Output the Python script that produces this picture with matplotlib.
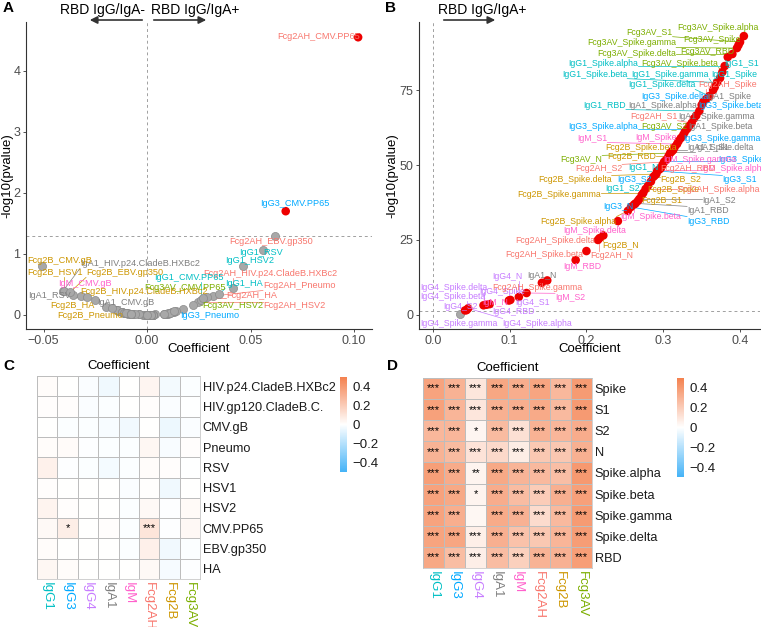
import numpy as np
import matplotlib.pyplot as plt
from matplotlib.colors import LinearSegmentedColormap

plt.rcParams['font.family'] = ['Liberation Sans', 'DejaVu Sans']

W, H = 761, 627

isotypes = ["IgG1", "IgG3", "IgG4", "IgA1", "IgM", "Fcg2AH", "Fcg2B", "Fcg3AV"]
iso_colors = ["#00BFC4", "#00A9FF", "#C77CFF", "#7F7F7F", "#FF61CC", "#F8766D", "#CD9600", "#7CAE00"]

# panel A / C : non-SARS antigens
antigens_c = ["HIV.p24.CladeB.HXBc2", "HIV.gp120.CladeB.C.", "CMV.gB", "Pneumo", "RSV",
              "HSV1", "HSV2", "CMV.PP65", "EBV.gp350", "HA"]
coef_c = np.array([
    [0.012, 0.002, -0.014, -0.0405, 0.001, 0.0417, -0.032, -0.008],
    [0.011, 0.009, -0.012, -0.010, 0.000, 0.010, -0.0145, -0.002],
    [0.001, -0.008, -0.011, -0.020, -0.036, 0.003, -0.0507, -0.012],
    [0.013, 0.0175, -0.004, -0.009, -0.010, 0.032, -0.017, 0.008],
    [0.056, -0.007, -0.010, -0.029, -0.008, 0.012, 0.009, -0.001],
    [0.010, 0.001, 0.002, 0.000, -0.012, 0.004, -0.040, 0.003],
    [0.0466, 0.011, 0.002, 0.003, -0.011, 0.0245, -0.004, 0.022],
    [0.026, 0.067, 0.001, 0.008, -0.009, 0.102, -0.006, 0.029],
    [0.014, 0.003, 0.002, 0.000, -0.010, 0.062, -0.037, -0.008],
    [0.035, 0.013, 0.001, 0.002, 0.000, 0.027, -0.025, -0.0078],
])
logp_c = np.array([
    [0.05, 0.00, 0.07, 0.40, 0.00, 0.44, 0.31, 0.02],
    [0.03, 0.02, 0.05, 0.03, 0.00, 0.02, 0.08, 0.00],
    [0.00, 0.02, 0.04, 0.13, 0.33, 0.00, 0.80, 0.05],
    [0.05, 0.10, 0.01, 0.02, 0.03, 0.31, 0.11, 0.02],
    [1.07, 0.02, 0.03, 0.30, 0.02, 0.05, 0.02, 0.00],
    [0.03, 0.00, 0.00, 0.00, 0.05, 0.01, 0.39, 0.00],
    [0.80, 0.04, 0.00, 0.00, 0.04, 0.21, 0.01, 0.16],
    [0.25, 1.70, 0.00, 0.02, 0.03, 4.55, 0.01, 0.30],
    [0.07, 0.00, 0.00, 0.00, 0.03, 1.29, 0.38, 0.02],
    [0.34, 0.06, 0.00, 0.00, 0.00, 0.27, 0.25, 0.02],
])

# panel B / D : SARS-CoV-2 antigens
antigens_d = ["Spike", "S1", "S2", "N", "Spike.alpha", "Spike.beta", "Spike.gamma", "Spike.delta", "RBD"]
coef_d = np.array([
    [0.365, 0.303, 0.099, 0.350, 0.323, 0.356, 0.280, 0.398],
    [0.374, 0.292, 0.101, 0.311, 0.318, 0.337, 0.272, 0.400],
    [0.284, 0.289, 0.042, 0.269, 0.122, 0.301, 0.287, 0.328],
    [0.299, 0.267, 0.112, 0.149, 0.074, 0.217, 0.222, 0.309],
    [0.380, 0.331, 0.046, 0.343, 0.295, 0.277, 0.254, 0.405],
    [0.370, 0.340, 0.044, 0.326, 0.262, 0.200, 0.315, 0.377],
    [0.367, 0.320, 0.035, 0.334, 0.305, 0.142, 0.274, 0.396],
    [0.360, 0.352, 0.066, 0.313, 0.241, 0.215, 0.291, 0.390],
    [0.347, 0.258, 0.070, 0.264, 0.186, 0.297, 0.307, 0.384],
])
logp_d = np.array([
    [75, 51.5, 4.8, 70, 59, 72, 43, 90],
    [79, 48, 5.0, 54.5, 57, 64, 40, 91],
    [44.5, 46.5, 1.5, 38.7, 7.3, 51, 46, 61],
    [50, 38, 6.0, 11.5, 3.6, 25.6, 26.5, 54],
    [83, 62, 2.2, 66.5, 48.5, 42, 34.7, 93],
    [77.5, 65.5, 1.6, 60, 36.8, 21.3, 56, 81],
    [76, 58, 0.4, 63, 52, 10.7, 40.7, 89],
    [73, 71, 3.2, 55, 31.3, 25.0, 47, 87],
    [68, 36, 3.4, 37.2, 18.3, 49, 53, 86],
])

# label placement (left edge x, centre y, in data units)
label_pos_a = {
    "Fcg2AH_CMV.PP65": (0.0628, 4.57), "IgG3_CMV.PP65": (0.0546, 1.82),
    "Fcg2AH_EBV.gp350": (0.0396, 1.20), "IgG1_RSV": (0.0444, 1.03),
    "IgG1_HSV2": (0.0377, 0.885), "Fcg2AH_HIV.p24.CladeB.HXBc2": (0.0271, 0.672),
    "IgG1_CMV.PP65": (0.0034, 0.607), "IgG1_HA": (0.0377, 0.508),
    "Fcg2AH_Pneumo": (0.0560, 0.475), "Fcg3AV_CMV.PP65": (-0.0014, 0.443),
    "Fcg2AH_HA": (0.0382, 0.311), "Fcg3AV_HSV2": (0.0266, 0.148),
    "Fcg2AH_HSV2": (0.0560, 0.148), "IgG3_Pneumo": (0.0159, -0.016),
    "Fcg2B_CMV.gB": (-0.058, 0.90), "IgA1_HIV.p24.CladeB.HXBc2": (-0.0324, 0.836),
    "Fcg2B_HSV1": (-0.058, 0.689), "Fcg2B_EBV.gp350": (-0.0295, 0.689),
    "IgM_CMV.gB": (-0.043, 0.508), "Fcg2B_HIV.p24.CladeB.HXBc2": (-0.0324, 0.377),
    "IgA1_RSV": (-0.0575, 0.311), "Fcg2B_HA": (-0.0469, 0.148),
    "IgA1_CMV.gB": (-0.0242, 0.197), "Fcg2B_Pneumo": (-0.0435, -0.016),
}
label_pos_b = {
    "Fcg3AV_Spike.alpha": (0.318, 96.0), "Fcg3AV_S1": (0.252, 94.3),
    "Fcg3AV_Spike": (0.326, 92.0), "Fcg3AV_Spike.gamma": (0.201, 90.7),
    "Fcg3AV_Spike.delta": (0.214, 87.3), "Fcg3AV_RBD": (0.322, 87.7),
    "IgG1_Spike.alpha": (0.176, 84.0), "Fcg3AV_Spike.beta": (0.272, 84.0),
    "IgG1_S1": (0.380, 84.0), "IgG1_Spike.beta": (0.168, 80.3),
    "IgG1_Spike.gamma": (0.259, 80.3), "IgG1_Spike": (0.362, 80.3),
    "IgG1_Spike.delta": (0.254, 76.7), "Fcg2AH_Spike": (0.345, 76.7),
    "IgG3_Spike.delta": (0.272, 73.0), "IgA1_Spike": (0.356, 73.0),
    "IgG1_RBD": (0.196, 70.0), "IgA1_Spike.alpha": (0.254, 70.0),
    "IgG3_Spike.beta": (0.345, 70.0), "Fcg2AH_S1": (0.257, 66.3),
    "IgA1_Spike.gamma": (0.320, 66.3), "IgG3_Spike.alpha": (0.176, 62.7),
    "Fcg3AV_S2": (0.272, 62.7), "IgA1_Spike.beta": (0.333, 62.7),
    "IgM_Spike": (0.263, 59.3), "IgG3_Spike.gamma": (0.326, 59.0),
    "IgM_S1": (0.188, 59.0), "Fcg2B_Spike.beta": (0.224, 56.0),
    "IgA1_Spike.delta": (0.331, 55.7), "IgA1_S1": (0.342, 55.7),
    "Fcg3AV_N": (0.166, 51.7), "Fcg2B_RBD": (0.227, 52.7),
    "IgM_Spike.gamma": (0.300, 51.7), "IgG3_Spike": (0.372, 51.7),
    "Fcg2AH_S2": (0.185, 48.7), "IgG1_N": (0.254, 49.3),
    "Fcg2AH_RBD": (0.296, 48.7), "IgM_Spike.alpha": (0.350, 48.7),
    "Fcg2B_Spike.delta": (0.137, 45.0), "IgG3_S2": (0.240, 45.0),
    "Fcg2B_S2": (0.296, 45.0), "IgG3_S1": (0.377, 45.0),
    "IgG1_S2": (0.224, 42.0), "Fcg2B_Spike": (0.279, 41.7),
    "Fcg2AH_Spike.alpha": (0.318, 41.7), "Fcg2B_Spike.gamma": (0.110, 40.0),
    "Fcg2B_S1": (0.272, 38.0), "IgA1_S2": (0.351, 38.0),
    "IgG3_N": (0.222, 36.3), "IgA1_RBD": (0.331, 34.7),
    "IgM_Spike.beta": (0.244, 32.7), "IgG3_RBD": (0.331, 31.3),
    "Fcg2B_Spike.alpha": (0.140, 31.3), "IgM_Spike.delta": (0.170, 28.0),
    "Fcg2AH_Spike.delta": (0.107, 24.7), "Fcg2B_N": (0.220, 23.0),
    "Fcg2AH_Spike.beta": (0.094, 20.3), "Fcg2AH_N": (0.205, 19.7),
    "IgM_RBD": (0.170, 16.0), "IgA1_N": (0.123, 13.3),
    "IgG4_N": (0.078, 12.7), "IgG4_Spike.delta": (-0.017, 9.3),
    "Fcg2AH_Spike.gamma": (0.077, 9.3), "IgG4_Spike": (0.061, 7.7),
    "IgM_S2": (0.159, 5.7), "IgG4_Spike.beta": (-0.017, 6.0),
    "IgM_N": (0.064, 4.3), "IgG4_S1": (0.107, 4.0),
    "IgG4_S2": (0.013, 2.7), "IgG4_RBD": (0.078, 1.0),
    "IgG4_Spike.gamma": (-0.017, -2.7), "IgG4_Spike.alpha": (0.091, -2.7),
}

cmap = LinearSegmentedColormap.from_list("coef", ["#45B3F7", "#FFFFFF", "#F4814F"])

fig = plt.figure(figsize=(W / 100, H / 100), dpi=100)


def fx(px):
    return px / W


def fy(py):
    return 1 - py / H


def style_axes(ax):
    for s in ["top", "right"]:
        ax.spines[s].set_visible(False)
    for s in ["left", "bottom"]:
        ax.spines[s].set_color("#333333")
        ax.spines[s].set_linewidth(0.8)
    ax.tick_params(colors="#333333", labelcolor="#4D4D4D", labelsize=9, length=2.5, width=0.6, pad=1.5)


def volcano(ax, coef, logp, antigens, lab_pos, fsize):
    sig = logp >= 1.3
    for i in range(len(antigens)):
        for j in range(len(isotypes)):
            if not sig[i, j]:
                ax.scatter(coef[i, j], logp[i, j], s=34, color="#A8A8A8", edgecolors="#8A8A8A",
                           linewidths=0.5, zorder=3)
    for i in range(len(antigens)):
        for j in range(len(isotypes)):
            if sig[i, j]:
                ax.scatter(coef[i, j], logp[i, j], s=38, color="#EE0000", edgecolors="none", zorder=4)
    texts = []
    for i, ag in enumerate(antigens):
        for j, iso in enumerate(isotypes):
            name = iso + "_" + ag
            if name in lab_pos:
                lx, ly = lab_pos[name]
                t = ax.text(lx, ly, name, color=iso_colors[j], fontsize=fsize, ha="left", va="center",
                            clip_on=False, zorder=5)
                texts.append((t, coef[i, j], logp[i, j], iso_colors[j]))
    return texts


def segments(ax, texts, renderer):
    inv = ax.transData.inverted()
    for t, px, py, col in texts:
        bb = t.get_window_extent(renderer)
        dx, dy = ax.transData.transform((px, py))
        cx = min(max(dx, bb.x0), bb.x1)
        cy = min(max(dy, bb.y0), bb.y1)
        if np.hypot(dx - cx, dy - cy) > 5:
            sx, sy = inv.transform((cx, cy))
            ax.plot([sx, px], [sy, py], color=col, lw=0.5, zorder=2, clip_on=False)


# ---- panel A
axA = fig.add_axes([fx(26), fy(329), fx(346), 307 / H])
style_axes(axA)
axA.axhline(1.3, color="#A0A0A0", ls=(0, (3, 3)), lw=0.7, zorder=1)
axA.axvline(0, color="#A0A0A0", ls=(0, (3, 3)), lw=0.7, zorder=1)
textsA = volcano(axA, coef_c, logp_c, antigens_c, label_pos_a, 6.6)
axA.set_xticks([-0.05, 0, 0.05, 0.10])
axA.set_xticklabels(["\u22120.05", "0.00", "0.05", "0.10"])
axA.set_yticks([0, 1, 2, 3, 4])
axA.set_xlabel("Coefficient", fontsize=9.5)
axA.set_ylabel("-log10(pvalue)", fontsize=9.5)
axA.xaxis.set_label_coords(0.5, -0.045)
axA.yaxis.set_label_coords(-0.036, 0.5)

# ---- panel B
axB = fig.add_axes([fx(419), fy(329), fx(341), 307 / H])
style_axes(axB)
axB.axhline(1.3, color="#A0A0A0", ls=(0, (3, 3)), lw=0.7, zorder=1)
axB.axvline(0, color="#A0A0A0", ls=(0, (3, 3)), lw=0.7, zorder=1)
textsB = volcano(axB, coef_d, logp_d, antigens_d, label_pos_b, 6.3)
axB.set_xticks([0, 0.1, 0.2, 0.3, 0.4])
axB.set_xticklabels(["0.0", "0.1", "0.2", "0.3", "0.4"])
axB.set_yticks([0, 25, 50, 75])
axB.set_xlabel("Coefficient", fontsize=9.5)
axB.set_ylabel("-log10(pvalue)", fontsize=9.5)
axB.xaxis.set_label_coords(0.5, -0.045)
axB.yaxis.set_label_coords(-0.06, 0.5)

axA.set_xlim(-0.0585, 0.1087)
axA.set_ylim(-0.23, 4.8)
axB.set_xlim(-0.018, 0.426)
axB.set_ylim(-4.7, 97.7)

fig.canvas.draw()
rend = fig.canvas.get_renderer()
segments(axA, textsA, rend)
segments(axB, textsB, rend)
axA.set_xlim(-0.0585, 0.1087)
axA.set_ylim(-0.23, 4.8)
axB.set_xlim(-0.018, 0.426)
axB.set_ylim(-4.7, 97.7)

# direction arrows
arrow_kw = dict(arrowstyle="-|>", color="#333333", lw=1.2, mutation_scale=11)
fig.text(fx(102), fy(10), "RBD IgG/IgA-", ha="center", va="center", fontsize=10)
fig.text(fx(195), fy(10), "RBD IgG/IgA+", ha="center", va="center", fontsize=10)
fig.text(fx(482), fy(10), "RBD IgG/IgA+", ha="center", va="center", fontsize=10)
axA.annotate("", xy=(fx(87), fy(20)), xytext=(fx(145), fy(20)), xycoords="figure fraction",
             textcoords="figure fraction", arrowprops=arrow_kw, annotation_clip=False)
axA.annotate("", xy=(fx(209), fy(20)), xytext=(fx(151), fy(20)), xycoords="figure fraction",
             textcoords="figure fraction", arrowprops=arrow_kw, annotation_clip=False)
axB.annotate("", xy=(fx(498), fy(20)), xytext=(fx(441), fy(20)), xycoords="figure fraction",
             textcoords="figure fraction", arrowprops=arrow_kw, annotation_clip=False)


def stars(p):
    if p >= 3:
        return "***"
    if p >= 2:
        return "**"
    if p >= 1.3:
        return "*"
    return ""


def heatmap(ax, cax, coef, logp, antigens):
    n = len(antigens)
    m = ax.pcolormesh(coef, cmap=cmap, vmin=-0.5, vmax=0.5, edgecolors="#BDBDBD", linewidth=0.5)
    ax.set_xlim(0, len(isotypes))
    ax.set_ylim(n, 0)
    for i in range(n):
        for j in range(len(isotypes)):
            s = stars(logp[i, j])
            if s:
                ax.text(j + 0.5, i + 0.5, s, ha="center", va="center", fontsize=8, color="black")
    ax.yaxis.tick_right()
    ax.set_yticks(np.arange(n) + 0.5)
    ax.set_yticklabels(antigens, fontsize=9.2, color="#1A1A1A")
    ax.set_xticks(np.arange(len(isotypes)) + 0.5)
    ax.set_xticklabels(isotypes, rotation=270, fontsize=9.5, va="top", ha="center")
    for lab, c in zip(ax.get_xticklabels(), iso_colors):
        lab.set_color(c)
    ax.tick_params(length=0, pad=2)
    for s in ax.spines.values():
        s.set_color("#BDBDBD")
        s.set_linewidth(0.5)
    ax.set_title("Coefficient", fontsize=9.5, pad=5)
    cb = fig.colorbar(m, cax=cax, ticks=[0.4, 0.2, 0, -0.2, -0.4])
    cb.outline.set_visible(False)
    cb.ax.set_yticklabels(["0.4", "0.2", "0", "\u22120.2", "\u22120.4"])
    cb.ax.tick_params(length=2, color="white", labelsize=9.5, labelcolor="#1A1A1A", pad=2)


axC = fig.add_axes([fx(37), fy(579), fx(163), 203 / H])
caxC = fig.add_axes([fx(340), fy(472), fx(7), 95 / H])
heatmap(axC, caxC, coef_c, logp_c, antigens_c)

axD = fig.add_axes([fx(423), fy(568), fx(169), 190 / H])
caxD = fig.add_axes([fx(677), fy(477), fx(7), 99 / H])
heatmap(axD, caxD, coef_d, logp_d, antigens_d)

for lbl, px, py in [("A", 3, 8), ("B", 385, 8), ("C", 3, 366), ("D", 387, 366)]:
    fig.text(fx(px), fy(py), lbl, fontsize=11, fontweight="bold", ha="left", va="center")

fig.savefig("out.png", dpi=100)
